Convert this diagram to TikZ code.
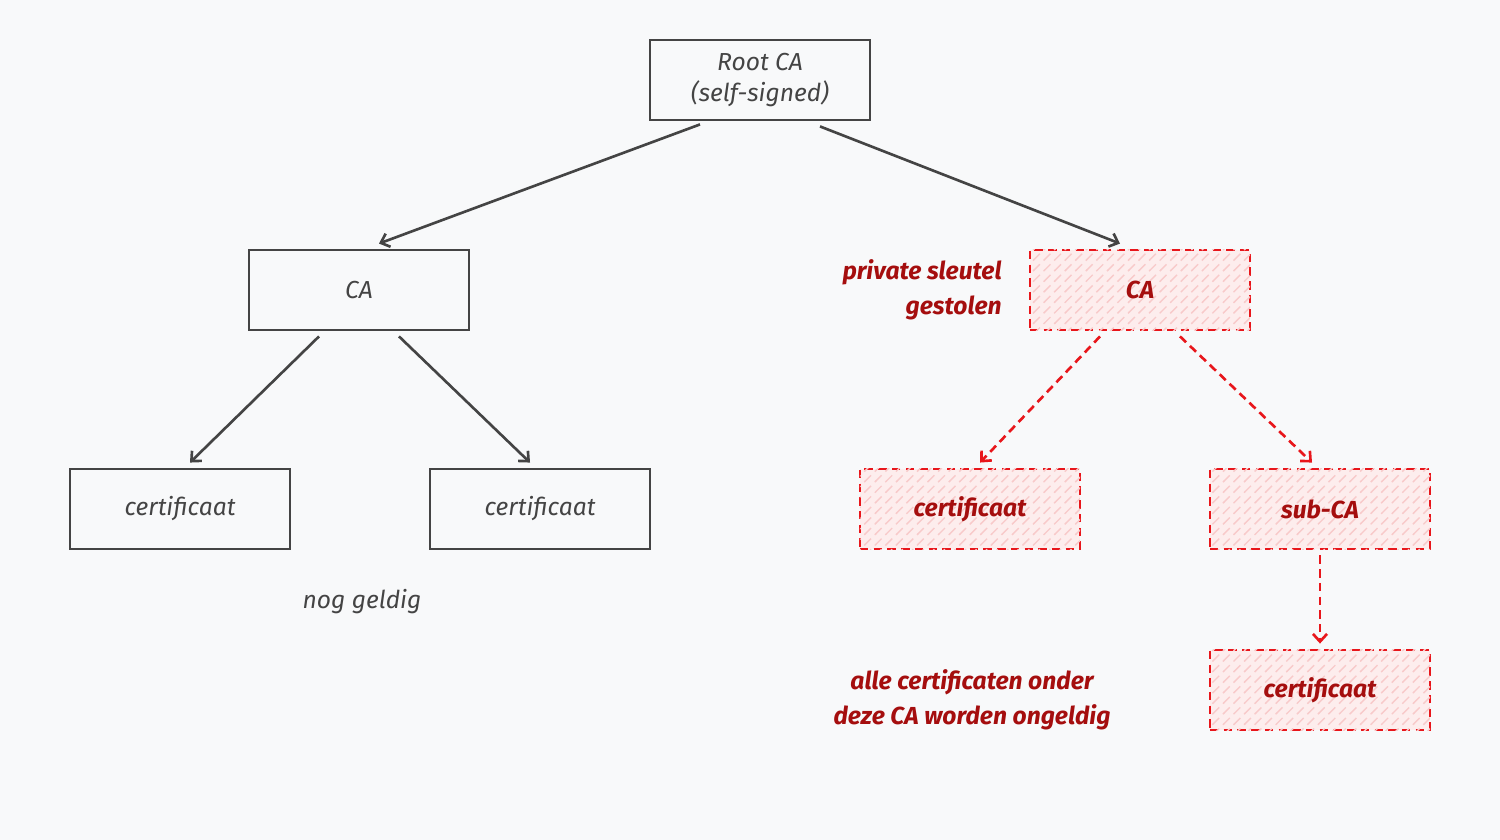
\documentclass[tikz,border=0pt]{standalone}
\usepackage{fontspec}
\setmainfont{Fira Sans}
\usetikzlibrary{calc,patterns,arrows.meta}
\definecolor{bg}{HTML}{F8F9FA}
\definecolor{ink}{HTML}{444444}
\definecolor{rd}{HTML}{E8161B}
\definecolor{rdtext}{HTML}{A50E0E}
\definecolor{pinkfill}{HTML}{FDEDED}
\definecolor{hatch}{HTML}{F8CACA}
\begin{document}
\begin{tikzpicture}[x=0.01cm,y=-0.01cm,
  box/.style={draw=ink,line width=0.8pt,minimum width=2.2cm,minimum height=0.8cm,inner sep=0pt,font=\itshape\fontsize{7}{8.8}\selectfont,text=ink,align=center},
  rbox/.style={draw=rd,line width=0.8pt,dash pattern=on 2.4pt off 1.5pt,fill=pinkfill,postaction={pattern=north east lines,pattern color=hatch},minimum width=2.2cm,minimum height=0.8cm,inner sep=0pt,font=\bfseries\itshape\fontsize{7}{8.8}\selectfont,text=rdtext,align=center},
  arr/.style={draw=ink,line width=0.75pt,-{Straight Barb[length=2.2pt,width=4pt]}},
  rarr/.style={draw=rd,line width=0.75pt,dash pattern=on 2.4pt off 1.5pt,-{Straight Barb[length=2.2pt,width=4pt]}},
  lbl/.style={font=\itshape\fontsize{7}{10}\selectfont}]
\fill[bg] (0,0) rectangle (1500,840);
\useasboundingbox (0,0) rectangle (1500,840);
\node[box] (root) at (760,80) {Root CA\\(self-signed)};
\node[box] (caL) at (359,290) {CA};
\node[rbox] (caR) at (1140,290) {CA};
\node[box] (c1) at (180,509) {certificaat};
\node[box] (c2) at (540,509) {certificaat};
\node[rbox] (c3) at (970,509) {certificaat};
\node[rbox] (sub) at (1320,509) {sub-CA};
\node[rbox] (c4) at (1320,690) {certificaat};
\node[lbl,font=\bfseries\itshape\fontsize{7}{10}\selectfont,text=rdtext,align=right,anchor=east] (stolen) at (1014,290) {private sleutel\\gestolen};
\node[lbl,text=ink] (valid) at (362,602) {nog geldig};
\node[lbl,font=\bfseries\itshape\fontsize{7}{10}\selectfont,text=rdtext,align=center] (invalid) at (972,700) {alle certificaten onder\\deze CA worden ongeldig};
\draw[arr] ($(root.south)+(-60,3)$) -- ($(caL.north)+(20,-5)$);
\draw[arr] ($(root.south)+(60,5)$) -- ($(caR.north)+(-20,-5)$);
\draw[arr] ($(caL.south)+(-40,5)$) -- ($(c1.north)+(10,-5)$);
\draw[arr] ($(caL.south)+(40,5)$) -- ($(c2.north)+(-10,-5)$);
\draw[rarr] ($(caR.south)+(-40,5)$) -- ($(c3.north)+(10,-5)$);
\draw[rarr] ($(caR.south)+(40,5)$) -- ($(sub.north)+(-8,-5)$);
\draw[rarr] ($(sub.south)+(0,5)$) -- ($(c4.north)+(0,-5)$);
\end{tikzpicture}
\end{document}
